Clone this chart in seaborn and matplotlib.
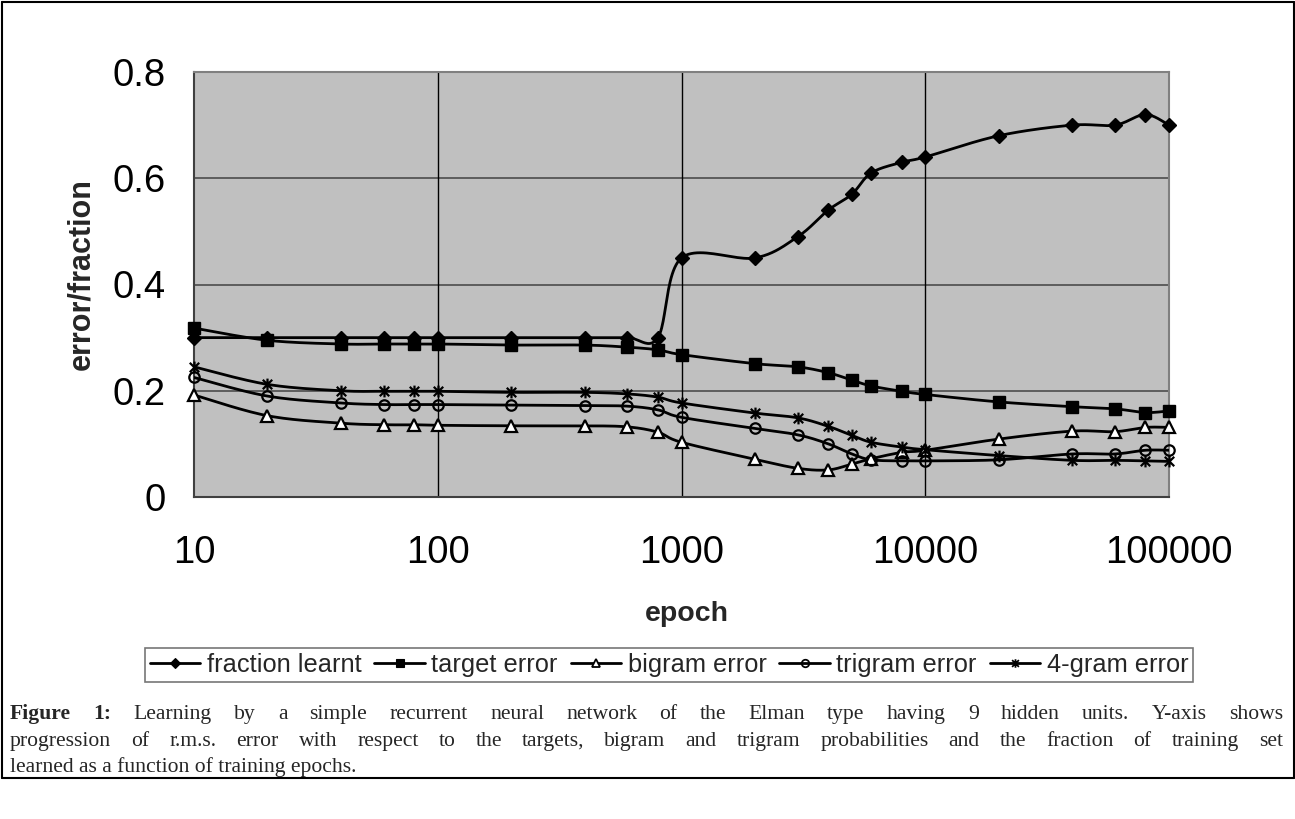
import numpy as np
import pandas as pd
import matplotlib
matplotlib.use("Agg")
import matplotlib.pyplot as plt
import seaborn as sns
from matplotlib.path import Path
from matplotlib.lines import Line2D

# ---------------- data ----------------
epochs = [10, 20, 40, 60, 80, 100, 200, 400, 600, 800, 1000, 2000, 3000, 4000,
          5000, 6000, 8000, 10000, 20000, 40000, 60000, 80000, 100000]
fraction_learnt = [0.30, 0.30, 0.30, 0.30, 0.30, 0.30, 0.30, 0.30, 0.30, 0.30, 0.45, 0.45, 0.49,
                   0.54, 0.57, 0.61, 0.63, 0.64, 0.68, 0.70, 0.70, 0.72, 0.70]
target_error = [0.318, 0.295, 0.288, 0.288, 0.288, 0.288, 0.286, 0.286, 0.282, 0.277, 0.268, 0.251,
                0.245, 0.234, 0.220, 0.209, 0.199, 0.193, 0.179, 0.170, 0.166, 0.159, 0.162]
bigram_error = [0.192, 0.153, 0.139, 0.136, 0.136, 0.135, 0.134, 0.134, 0.132, 0.122, 0.103, 0.071,
                0.054, 0.051, 0.062, 0.072, 0.084, 0.088, 0.109, 0.124, 0.123, 0.131, 0.131]
trigram_error = [0.225, 0.190, 0.177, 0.174, 0.174, 0.174, 0.173, 0.172, 0.171, 0.164, 0.150, 0.129,
                 0.117, 0.100, 0.081, 0.070, 0.068, 0.068, 0.070, 0.081, 0.081, 0.088, 0.088]
fourgram_error = [0.245, 0.212, 0.200, 0.199, 0.199, 0.199, 0.197, 0.197, 0.194, 0.188, 0.177, 0.158,
                  0.149, 0.133, 0.116, 0.103, 0.094, 0.089, 0.078, 0.069, 0.069, 0.068, 0.067]

series_names = ["fraction learnt", "target error", "bigram error", "trigram error", "4-gram error"]
series_values = [fraction_learnt, target_error, bigram_error, trigram_error, fourgram_error]

x_ticks = [10, 100, 1000, 10000, 100000]
x_tick_labels = ["10", "100", "1000", "10000", "100000"]
y_ticks = [0, 0.2, 0.4, 0.6, 0.8]
y_tick_labels = ["0", "0.2", "0.4", "0.6", "0.8"]

caption_line1 = "Learning by a simple recurrent neural network of the Elman type having 9 hidden units. Y-axis shows"
caption_line2 = "progression of r.m.s. error with respect to the targets, bigram and trigram probabilities and the fraction of training set"
caption_line3 = "learned as a function of training epochs."

# ---------------- style ----------------
sns.set_theme(style="white")
plt.rcParams["font.family"] = ["Liberation Sans", "DejaVu Sans"]

W, H = 1295, 819
fig = plt.figure(figsize=(W / 100, H / 100), dpi=100)

def fx(px):
    return px / W

def fy(py):
    return 1 - py / H

L, R, T, B = 194, 1169, 72, 497
ax = fig.add_axes([fx(L), fy(B), fx(R) - fx(L), fy(T) - fy(B)])
ax.set_facecolor("#C0C0C0")
ax.set_xscale("log")
ax.set_xlim(10, 100000)
ax.set_ylim(0, 0.8)

# star (asterisk) marker
star_path = Path([(-1, -1), (1, 1), (-1, 1), (1, -1), (0, -1.25), (0, 1.25)],
                 [Path.MOVETO, Path.LINETO, Path.MOVETO, Path.LINETO, Path.MOVETO, Path.LINETO])

styles = [
    dict(marker="D", ms=7.5, mfc="black", mec="black", mew=1.0),
    dict(marker="s", ms=8.0, mfc="black", mec="black", mew=1.0),
    dict(marker="^", ms=8.5, mfc="white", mec="black", mew=1.6),
    dict(marker="o", ms=7.5, mfc="none", mec="black", mew=1.6),
    dict(marker=star_path, ms=8.5, mfc="none", mec="black", mew=1.6),
]

def catmull_rom(xs, ys, n=24):
    px = np.log10(np.asarray(xs, float))
    py = np.asarray(ys, float)
    P = np.column_stack([px, py])
    P = np.vstack([P[0], P, P[-1]])
    out = []
    for i in range(1, len(P) - 2):
        p0, p1, p2, p3 = P[i - 1], P[i], P[i + 1], P[i + 2]
        t = np.linspace(0, 1, n, endpoint=False)[:, None]
        pts = 0.5 * ((2 * p1) + (-p0 + p2) * t + (2 * p0 - 5 * p1 + 4 * p2 - p3) * t ** 2
                     + (-p0 + 3 * p1 - 3 * p2 + p3) * t ** 3)
        out.append(pts)
    out.append(P[-2][None, :])
    out = np.vstack(out)
    return 10 ** out[:, 0], out[:, 1]

handles = []
for name, vals, st in zip(series_names, series_values, styles):
    sx, sy = catmull_rom(epochs, vals)
    df = pd.DataFrame({"x": sx, "y": sy})
    sns.lineplot(data=df, x="x", y="y", ax=ax, color="black", linewidth=2.0,
                 estimator=None, sort=False, zorder=3)
    ax.plot(epochs, vals, linestyle="none", marker=st["marker"], markersize=st["ms"],
            markerfacecolor=st["mfc"], markeredgecolor=st["mec"], markeredgewidth=st["mew"],
            zorder=4, clip_on=False)
    handles.append(Line2D([], [], color="black", linewidth=2.0, marker=st["marker"],
                          markersize=st["ms"] * 0.72, markerfacecolor=st["mfc"],
                          markeredgecolor=st["mec"], markeredgewidth=st["mew"] * 0.8, label=name))

# grid
for yv in y_ticks[1:-1]:
    ax.axhline(yv, color="#555555", linewidth=1.3, zorder=1)
for xv in x_ticks[1:-1]:
    ax.axvline(xv, color="black", linewidth=1.0, zorder=1)

ax.set_xticks(x_ticks)
ax.set_xticklabels(x_tick_labels)
ax.set_yticks(y_ticks)
ax.set_yticklabels(y_tick_labels)
ax.xaxis.set_minor_locator(matplotlib.ticker.NullLocator())
ax.tick_params(axis="both", which="major", labelsize=27.5, colors="black", direction="out",
               length=8.5, width=1.0)
ax.tick_params(axis="x", pad=19)
ax.tick_params(axis="y", pad=12)

for side in ["top", "right"]:
    ax.spines[side].set_color("#808080")
    ax.spines[side].set_linewidth(1.5)
for side in ["left", "bottom"]:
    ax.spines[side].set_color("#404040")
    ax.spines[side].set_linewidth(1.5)

ax.set_xlabel("epoch", fontsize=20.5, fontweight="bold", labelpad=22)
ax.set_ylabel("error/fraction", fontsize=22, fontweight="bold", labelpad=14)
ax.yaxis.set_label_coords(-0.1, 0.525)
ax.xaxis.set_label_coords(0.506, -0.245)

leg = fig.legend(handles=handles, loc="center", bbox_to_anchor=(fx(669), fy(665)),
                 ncol=5, frameon=True, fontsize=18.3, handlelength=2.0, handletextpad=0.25,
                 columnspacing=0.5, borderpad=0.2, borderaxespad=0, fancybox=False,
                 edgecolor="#555555")
leg.get_frame().set_linewidth(1.2)

# figure border lines
border_kw = dict(color="black", linewidth=1.5, transform=fig.transFigure)
fig.add_artist(Line2D([fx(1.5), fx(1.5)], [fy(1.5), fy(778)], **border_kw))
fig.add_artist(Line2D([fx(1.5), fx(1293.5)], [fy(1.5), fy(1.5)], **border_kw))
fig.add_artist(Line2D([fx(1293.5), fx(1293.5)], [fy(1.5), fy(778)], **border_kw))
fig.add_artist(Line2D([fx(1.5), fx(1293.5)], [fy(778), fy(778)], **border_kw))

# caption (justified lines)
serif = ["Liberation Serif", "DejaVu Serif"]
renderer = fig.canvas.get_renderer()
cap_fs = 15.6

def justified(words, x0, x1, y):
    texts = []
    for w, bold in words:
        t = fig.text(0, fy(y), w, fontsize=cap_fs, family=serif,
                     fontweight="bold" if bold else "normal", va="baseline", ha="left")
        texts.append(t)
    widths = [t.get_window_extent(renderer).width for t in texts]
    gap = (x1 - x0 - sum(widths)) / max(len(texts) - 1, 1)
    x = x0
    for t, w in zip(texts, widths):
        t.set_x(fx(x))
        x += w + gap

line1_words = [("Figure", True), ("1:", True)] + [(w, False) for w in caption_line1.split()]
line2_words = [(w, False) for w in caption_line2.split()]
justified(line1_words, 10, 1283, 719)
justified(line2_words, 10, 1283, 746)
fig.text(fx(10), fy(772), caption_line3, fontsize=cap_fs, family=serif, va="baseline", ha="left")

fig.savefig("out.png", dpi=100)
